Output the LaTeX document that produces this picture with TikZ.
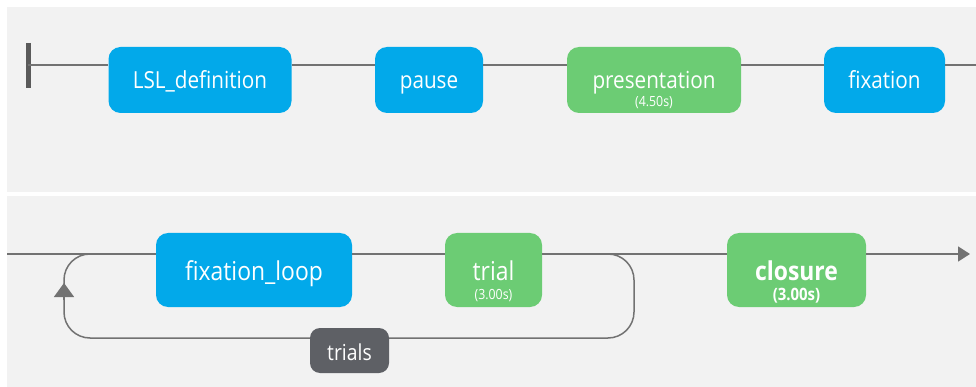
\documentclass[tikz,border=0pt]{standalone}
\usepackage{fontspec}
\setmainfont{Open Sans}[FakeStretch=0.88]
\usetikzlibrary{arrows.meta}

\begin{document}
\begin{tikzpicture}[x=1pt, y=-1pt,
  routine/.style={rounded corners=12pt, text=white, inner sep=0pt, fill=colRoutine},
  timed/.style={routine, fill=colTimed},
  toprow/.style={minimum height=66pt, text height=17pt, text depth=0pt, font=\fontsize{23.5}{28}\selectfont},
  botrow/.style={minimum height=74pt, text height=20pt, text depth=0pt, font=\fontsize{26}{30}\selectfont},
  dur/.style={text=white, inner sep=0pt, font=\fontsize{14}{16}\selectfont},
  flow/.style={draw=colFlow, line width=1.6pt},
  loopline/.style={draw=colFlow, line width=1.5pt},
  loopname/.style={rounded corners=10pt, fill=colLoop, text=white, inner sep=0pt,
    minimum width=79pt, minimum height=45pt, text height=19pt, text depth=0pt,
    font=\fontsize{22}{26}\selectfont}]

% Colori
\definecolor{colRoutine}{HTML}{02A9EA}
\definecolor{colTimed}{HTML}{6CCC74}
\definecolor{colLoop}{HTML}{5E6065}
\definecolor{colFlow}{HTML}{727272}
\definecolor{colBar}{HTML}{5A5A5A}
\definecolor{colPanel}{HTML}{F2F2F2}

% Sfondo
\useasboundingbox (0,0) rectangle (976,387);
\fill[colPanel] (7,7) rectangle (976,192);
\fill[colPanel] (7,196) rectangle (976,387);

% Riga superiore
\coordinate (tstart) at (28,65);
\coordinate (tend) at (976,65);
\node[routine, toprow, minimum width=183pt] (lsl) at (200,80) {LSL\_definition};
\node[routine, toprow, minimum width=108pt] (pause) at (429,80) {pause};
\node[timed, toprow, minimum width=174pt] (pres) at (654,80) {presentation};
\node[dur] (presDur) at (654,103) {(4.50s)};
\node[routine, toprow, minimum width=121pt] (fix) at (884.5,80) {fixation};

\draw[colBar, line width=5pt] (tstart) ++(0,-22) -- ++(0,45);
\draw[flow] (tstart) -- (tstart -| lsl.west);
\draw[flow] (tstart -| lsl.east) -- (tstart -| pause.west);
\draw[flow] (tstart -| pause.east) -- (tstart -| pres.west);
\draw[flow] (tstart -| pres.east) -- (tstart -| fix.west);
\draw[flow] (tstart -| fix.east) -- (tend);

% Riga inferiore
\coordinate (bstart) at (7,254);
\coordinate (bend) at (970,254);
\node[routine, botrow, minimum width=196pt] (fixloop) at (254,270) {fixation\_loop};
\node[timed, botrow, minimum width=97pt] (trial) at (493.5,270) {trial};
\node[dur] (trialDur) at (493.5,296) {(3.00s)};
\node[timed, botrow, minimum width=139pt, font=\fontsize{26}{30}\bfseries\selectfont] (closure) at (796.5,270) {closure};
\node[dur, font=\fontsize{17}{20}\bfseries\selectfont] (closureDur) at (796.5,296) {(3.00s)};

\draw[flow] (bstart) -- (bstart -| fixloop.west);
\draw[flow] (bstart -| fixloop.east) -- (bstart -| trial.west);
\draw[flow] (bstart -| trial.east) -- (bstart -| closure.west);
\draw[flow, -{Triangle[width=15pt, length=12pt]}] (bstart -| closure.east) -- (bend);

% Ciclo trials
\coordinate (loopNE) at (634,254);
\coordinate (loopSE) at (634,338);
\coordinate (loopSW) at (64,338);
\coordinate (loopNW) at (64,254);
\draw[loopline, rounded corners=26pt] (590,254) -- (loopNE) -- (loopSE) -- (loopSW) -- (loopNW) -- (110,254);
\draw[loopline, -{Triangle[width=20pt, length=14pt]}] (64,300) -- (64,283);
\node[loopname] (trials) at (349.5,350.5) {trials};

\end{tikzpicture}
\end{document}
